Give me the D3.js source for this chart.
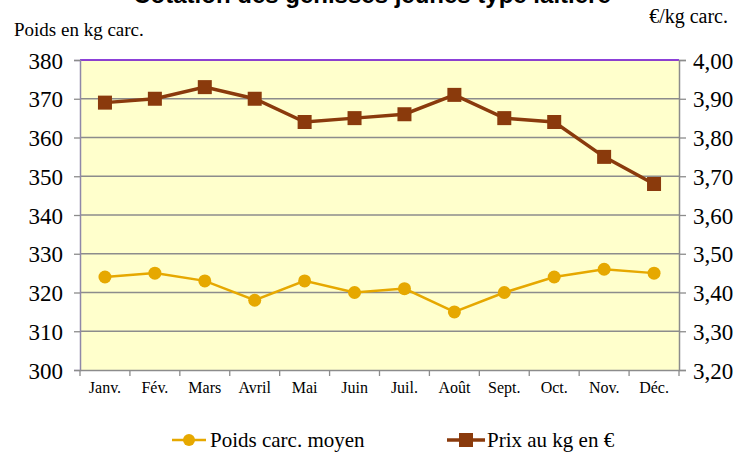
<!DOCTYPE html>
<html><head><meta charset="utf-8">
<script src="https://cdn.jsdelivr.net/npm/d3@7"></script>
<style>body{margin:0;background:#fff}svg{display:block}
.serif{font-family:'Liberation Serif','Times New Roman',serif}</style>
</head><body>
<svg id="c" width="736" height="453"></svg>
<script>
const months = ["Janv.","Fév.","Mars","Avril","Mai","Juin","Juil.","Août","Sept.","Oct.","Nov.","Déc."];
const poids = [324,325,323,318,323,320,321,315,320,324,326,325];
const prix = [3.89,3.90,3.93,3.90,3.84,3.85,3.86,3.91,3.85,3.84,3.75,3.68];
const leftTicks = [300,310,320,330,340,350,360,370,380];
const rightTicks = [3.2,3.3,3.4,3.5,3.6,3.7,3.8,3.9,4.0];
const seriesNames = ["Poids carc. moyen","Prix au kg en €"];
const titleText = "Cotation des génisses jeunes type laitière";

const svg = d3.select("#c");
const L=80,R=679,T=60,B=370;
const x = d3.scaleBand().domain(months).range([L,R]);
const yL = d3.scaleLinear().domain([300,380]).range([B,T]);
const yR = d3.scaleLinear().domain([3.2,4.0]).range([B,T]);

svg.append("text").attr("x",372).attr("y",3).attr("text-anchor","middle")
  .style("font-family","'Liberation Sans',Arial,sans-serif").attr("font-weight","bold")
  .style("font-size","24px").text(titleText);

svg.append("rect").attr("x",L).attr("y",T).attr("width",R-L).attr("height",B-T).attr("fill","#ffffcc");

// gridlines
svg.append("g").selectAll("line").data(leftTicks.filter(d=>d>300)).join("line")
  .attr("x1",L).attr("x2",R).attr("y1",d=>yL(d)).attr("y2",d=>yL(d))
  .attr("stroke",d=>d===380?"#6600cc":"#8c8c8c").attr("stroke-width",d=>d===380?1.5:1.3);

// left axis
const gl = svg.append("g").attr("transform",`translate(${L},0)`)
  .call(d3.axisLeft(yL).tickValues(leftTicks).tickSize(6).tickPadding(11).tickFormat(d3.format("d")));
gl.select(".domain").attr("stroke","#8f88a8").attr("stroke-width",1.5);
gl.selectAll(".tick line").attr("stroke","#8c8c8c").attr("stroke-width",1.3);
gl.selectAll("text").attr("class","serif").style("font-size","23px").attr("fill","#000").attr("dy","0.35em");

// right axis
const gr = svg.append("g").attr("transform",`translate(${R},0)`)
  .call(d3.axisRight(yR).tickValues(rightTicks).tickSize(7).tickPadding(7).tickFormat(d=>d3.format(".2f")(d).replace(".",",")));
gr.select(".domain").attr("stroke","#8c8c8c").attr("stroke-width",1.5);
gr.selectAll(".tick line").attr("stroke","#8c8c8c").attr("stroke-width",1.3);
gr.selectAll("text").attr("class","serif").style("font-size","23px").attr("fill","#000").attr("dy","0.35em");

// bottom axis
const gb = svg.append("g").attr("transform",`translate(0,${B})`)
  .call(d3.axisBottom(x).tickSize(0).tickPadding(12));
gb.select(".domain").attr("stroke","#8c8c8c").attr("stroke-width",1.5);
gb.selectAll("text").attr("class","serif").style("font-size","16px").attr("fill","#000");
const bounds = months.map(m=>x(m)).concat([R]);
svg.append("g").selectAll("line").data(bounds).join("line")
  .attr("x1",d=>d).attr("x2",d=>d).attr("y1",B).attr("y2",B+6)
  .attr("stroke","#8c8c8c").attr("stroke-width",1.3);

// axis titles
svg.append("text").attr("class","serif").attr("x",14).attr("y",36).style("font-size","19px").text("Poids en kg carc.");
svg.append("text").attr("class","serif").attr("x",728).attr("y",23).attr("text-anchor","end").style("font-size","20px").text("€/kg carc.");

const cx = m=>x(m)+x.bandwidth()/2;
const cPoids="#e6a800", cPrix="#8a3a0c";

// prix line
svg.append("path").datum(prix).attr("fill","none").attr("stroke",cPrix).attr("stroke-width",3.5)
  .attr("d",d3.line().x((d,i)=>cx(months[i])).y(d=>yR(d)));
svg.append("g").selectAll("rect").data(prix).join("rect")
  .attr("x",(d,i)=>cx(months[i])-7).attr("y",d=>yR(d)-7).attr("width",14).attr("height",14).attr("fill",cPrix);

// poids line
svg.append("path").datum(poids).attr("fill","none").attr("stroke",cPoids).attr("stroke-width",2.5)
  .attr("d",d3.line().x((d,i)=>cx(months[i])).y(d=>yL(d)));
svg.append("g").selectAll("circle").data(poids).join("circle")
  .attr("cx",(d,i)=>cx(months[i])).attr("cy",d=>yL(d)).attr("r",6.5).attr("fill",cPoids);

// legend
const ly=440;
svg.append("line").attr("x1",172).attr("x2",206).attr("y1",ly).attr("y2",ly).attr("stroke",cPoids).attr("stroke-width",2.5);
svg.append("circle").attr("cx",189).attr("cy",ly).attr("r",6).attr("fill",cPoids);
svg.append("text").attr("class","serif").attr("x",210).attr("y",ly+7).style("font-size","21px").text(seriesNames[0]);
svg.append("line").attr("x1",447).attr("x2",485).attr("y1",ly).attr("y2",ly).attr("stroke",cPrix).attr("stroke-width",3.5);
svg.append("rect").attr("x",459).attr("y",ly-7).attr("width",14).attr("height",14).attr("fill",cPrix);
svg.append("text").attr("class","serif").attr("x",487).attr("y",ly+7).style("font-size","21px").text(seriesNames[1]);
</script>
</body></html>
